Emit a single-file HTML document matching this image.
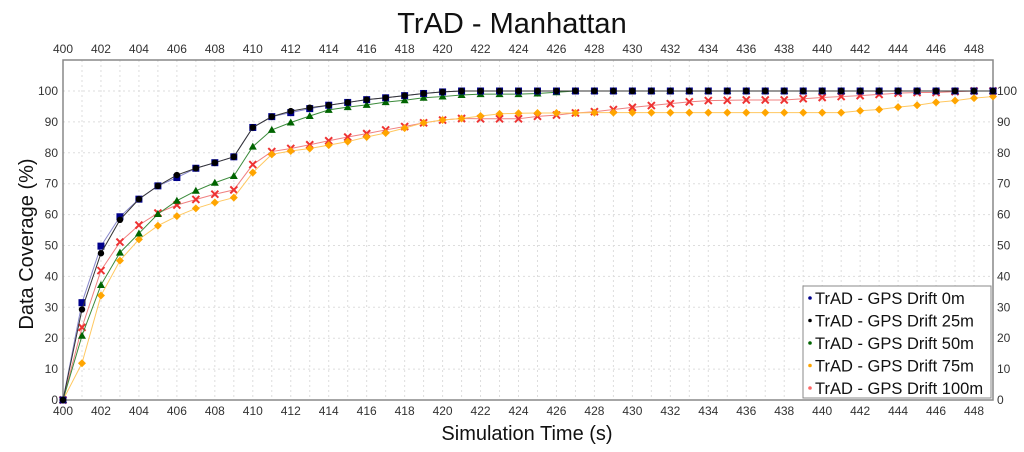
<!DOCTYPE html>
<html><head><meta charset="utf-8"><style>
html,body{margin:0;padding:0;background:#fff;}
svg{display:block;font-family:"Liberation Sans",Arial,sans-serif;}
</style></head><body>
<svg id="chart" width="1024" height="452" viewBox="0 0 1024 452" xmlns="http://www.w3.org/2000/svg">
<text x="512" y="33" text-anchor="middle" font-size="29" fill="#111">TrAD - Manhattan</text>
<text x="527" y="440" text-anchor="middle" font-size="20" fill="#111">Simulation Time (s)</text>
<text transform="translate(33,244) rotate(-90)" text-anchor="middle" font-size="20" fill="#111">Data Coverage (%)</text>
<g id="grid"></g><g id="axes"></g><g id="series"></g>
<g id="legend"></g>
</svg>
<script>
const times = [400,401,402,403,404,405,406,407,408,409,410,411,412,413,414,415,416,417,418,419,420,421,422,423,424,425,426,427,428,429,430,431,432,433,434,435,436,437,438,439,440,441,442,443,444,445,446,447,448,449];
const drift0 = [0,31.5,49.8,59.3,65,69.3,72,75,76.8,78.7,88.2,91.7,93,94.3,95.4,96.3,97.2,97.8,98.5,99.2,99.7,100,100,100,100,100,100,100,100,100,100,100,100,100,100,100,100,100,100,100,100,100,100,100,100,100,100,100,100,100];
const drift25 = [0,29.3,47.5,58.3,65,69.3,72.8,75,76.8,78.7,88.2,91.7,93.5,94.6,95.4,96.3,97.2,97.8,98.5,99.2,99.7,100,100,100,100,100,100,100,100,100,100,100,100,100,100,100,100,100,100,100,100,100,100,100,100,100,100,100,100,100];
const drift50 = [0,20.8,37.2,47.7,53.9,60.2,64.5,67.7,70.3,72.5,82,87.4,89.8,91.9,93.9,94.8,95.5,96.4,97,97.8,98.2,98.7,99,99,99,99.2,99.6,100,100,100,100,100,100,100,100,100,100,100,100,100,100,100,100,100,100,100,100,100,100,100];
const drift75 = [0,11.9,33.8,45.1,52,56.4,59.5,62,63.9,65.5,73.6,79.5,80.6,81.4,82.5,83.6,85.1,86.4,88,89.7,90.6,91.1,91.9,92.6,92.8,92.9,92.9,92.9,93,93,93,93,93,93,93,93,93,93,93,93,93,93,93.6,94,94.8,95.4,96.3,96.9,97.7,98.2];
const drift100 = [0,23.5,41.9,51.1,56.6,60.5,63.1,64.9,66.6,68,76.2,80.4,81.4,82.6,83.9,85.1,86.2,87.4,88.5,89.7,90.6,91.1,91,91,91,91.8,92.2,92.9,93.3,94,94.7,95.3,95.9,96.5,96.9,97,97.1,97.1,97.1,97.5,97.9,98.2,98.5,98.9,99.3,99.5,99.5,99.8,100,100];
const yTicks = [0,10,20,30,40,50,60,70,80,90,100];
const seriesNames = ["TrAD - GPS Drift 0m","TrAD - GPS Drift 25m","TrAD - GPS Drift 50m","TrAD - GPS Drift 75m","TrAD - GPS Drift 100m"];

const NS="http://www.w3.org/2000/svg";
const L=63,R=993,T=60,B=400;
const xS=t=>L+(t-400)*(R-L)/49;
const yS=v=>B-v*3.09;
function mk(tag,attrs,parent){const e=document.createElementNS(NS,tag);for(const k in attrs)e.setAttribute(k,attrs[k]);parent.appendChild(e);return e;}
const grid=document.getElementById('grid'),axes=document.getElementById('axes'),sg=document.getElementById('series'),lg=document.getElementById('legend');
for(let t=401;t<=448;t++){const g=mk('line',{x1:xS(t),x2:xS(t),y1:T,y2:B,stroke:'#ddd','stroke-dasharray':'2,3'},grid);

}
yTicks.forEach(v=>{if(v>0){const g=mk('line',{x1:L,x2:R,y1:yS(v),y2:yS(v),stroke:'#ddd','stroke-dasharray':'2,3'},grid);

}
const a=mk('text',{x:L-5,y:yS(v)+4,'text-anchor':'end','font-size':12,fill:'#333'},axes);a.textContent=v;


const b=mk('text',{x:R+4,y:yS(v)+4,'font-size':12,fill:'#333'},axes);b.textContent=v;

});
for(let t=400;t<=448;t+=2){
const a=mk('text',{x:xS(t),y:53,'text-anchor':'middle','font-size':12,fill:'#333'},axes);a.textContent=t;


const b=mk('text',{x:xS(t),y:415,'text-anchor':'middle','font-size':12,fill:'#333'},axes);b.textContent=t;

}
const frame=mk('rect',{x:L,y:T,width:R-L,height:B-T,fill:'none',stroke:'#888','stroke-width':1.5},axes);



const defs=[[drift100,'#e33','#f08080','x'],[drift75,'#ffa500','#ffc860','d'],[drift50,'#006400','#3a8a3a','t'],[drift0,'#00008b','#8888cc','s'],[drift25,'#000','#333','c']];
function marker(shape,x,y,c,p){
 if(shape==='s')return mk('rect',{x:x-3.5,y:y-3.5,width:7,height:7,fill:c},p);
 if(shape==='c')return mk('circle',{cx:x,cy:y,r:3.2,fill:c},p);
 if(shape==='t')return mk('polygon',{points:`${x},${y-4} ${x-4},${y+3} ${x+4},${y+3}`,fill:c},p);
 if(shape==='d')return mk('polygon',{points:`${x},${y-4} ${x+4},${y} ${x},${y+4} ${x-4},${y}`,fill:c},p);
 return mk('path',{d:`M${x-3.5},${y-3.5}L${x+3.5},${y+3.5}M${x+3.5},${y-3.5}L${x-3.5},${y+3.5}`,stroke:c,'stroke-width':2},p);
}
defs.forEach(([vals,c,lc,sh],i)=>{
 const pts=vals.map((v,j)=>xS(times[j])+','+yS(v)).join(' ');
 const pl=mk('polyline',{points:pts,fill:'none',stroke:lc,'stroke-width':1},sg);
 
 
 vals.forEach((v,j)=>{const m=marker(sh,xS(times[j]),yS(v),c,sg);
 
 });
});
const lb=mk('rect',{x:803,y:286,width:188,height:112,fill:'#fff',stroke:'#888'},lg);


const lcol=['#00008b','#000','#006400','#ffa500','#f66'];
seriesNames.forEach((n,i)=>{const y=298+i*22.5;
 const d=mk('circle',{cx:810,cy:y,r:1.8,fill:lcol[i]},lg);
 
 
 const t=mk('text',{x:815,y:y+6,'font-size':16.5,fill:'#111'},lg);t.textContent=n;
 
 });
</script>
</body></html>
